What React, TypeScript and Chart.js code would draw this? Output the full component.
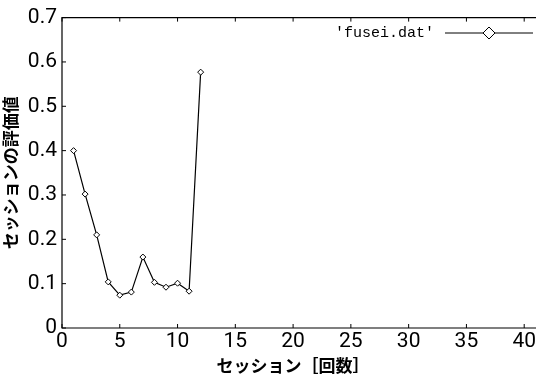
import React, { useEffect, useRef } from "react";
import { Chart, registerables } from "chart.js";

Chart.register(...registerables);

const sessions = [1, 2, 3, 4, 5, 6, 7, 8, 9, 10, 11, 12];
const evalValues = [0.4, 0.302, 0.21, 0.104, 0.074, 0.081, 0.16, 0.103, 0.092, 0.101, 0.083, 0.577];
const seriesLabel = "'fusei.dat'";
const xTitle = "セッション［回数］";
const yTitle = "セッションの評価値";

const tickFont = "Roboto, 'Noto Sans', sans-serif";
const titleFont = "'Noto Sans CJK JP', sans-serif";
const legendFont = "'Liberation Mono', 'DejaVu Sans Mono', monospace";

function drawDiamond(ctx: CanvasRenderingContext2D, x: number, y: number, r: number) {
  ctx.beginPath();
  ctx.moveTo(x, y - r);
  ctx.lineTo(x + r, y);
  ctx.lineTo(x, y + r);
  ctx.lineTo(x - r, y);
  ctx.closePath();
  ctx.fillStyle = "#fff";
  ctx.fill();
  ctx.stroke();
}

const framePlugin = {
  id: "frame",
  afterDraw(chart: any) {
    const ctx: CanvasRenderingContext2D = chart.ctx;
    const { left, top, bottom } = chart.chartArea;
    const xs = chart.scales.x;
    const ys = chart.scales.y;
    const edge = chart.width - 1;
    ctx.save();
    ctx.strokeStyle = "#000";
    ctx.lineWidth = 1.2;
    ctx.beginPath();
    ctx.moveTo(edge, top);
    ctx.lineTo(left, top);
    ctx.lineTo(left, bottom);
    ctx.lineTo(edge, bottom);
    ctx.stroke();
    ctx.lineWidth = 1;
    ctx.beginPath();
    xs.ticks.forEach((t: any) => {
      const px = xs.getPixelForValue(t.value);
      ctx.moveTo(px, bottom);
      ctx.lineTo(px, bottom - 4);
      ctx.moveTo(px, top);
      ctx.lineTo(px, top + 4);
    });
    ys.ticks.forEach((t: any) => {
      const py = ys.getPixelForValue(t.value);
      ctx.moveTo(left, py);
      ctx.lineTo(left + 4, py);
    });
    ctx.stroke();
    // legend
    ctx.font = `15px ${legendFont}`;
    ctx.fillStyle = "#000";
    ctx.textAlign = "right";
    ctx.textBaseline = "middle";
    ctx.fillText(seriesLabel, 434, 33);
    ctx.beginPath();
    ctx.moveTo(445, 33);
    ctx.lineTo(533, 33);
    ctx.stroke();
    drawDiamond(ctx, 489, 33, 6);
    ctx.restore();
  },
};

export default function App() {
  const ref = useRef<HTMLCanvasElement>(null);
  useEffect(() => {
    document.body.style.margin = "0";
    const chart = new Chart(ref.current!, {
      type: "line",
      data: {
        datasets: [
          {
            label: seriesLabel,
            data: sessions.map((s, i) => ({ x: s, y: evalValues[i] })),
            borderColor: "#000",
            borderWidth: 1.2,
            pointStyle: "rectRot",
            pointRadius: 3,
            pointBorderWidth: 1,
            pointBackgroundColor: "#fff",
            pointBorderColor: "#000",
            tension: 0,
          },
        ],
      },
      options: {
        animation: false,
        responsive: false,
        layout: { padding: { top: 14, right: 8, left: 0, bottom: 0 } },
        plugins: { legend: { display: false }, tooltip: { enabled: false } },
        scales: {
          x: {
            type: "linear",
            min: 0,
            max: 40,
            grid: { display: false, drawTicks: false },
            border: { display: false },
            ticks: {
              stepSize: 5,
              autoSkip: false,
              maxRotation: 0,
              color: "#000",
              padding: 1,
              font: { family: tickFont, size: 21 },
            },
            title: {
              display: true,
              text: xTitle,
              color: "#000",
              padding: { top: -7, bottom: 0 },
              font: { family: titleFont, size: 17, weight: "bold" },
            },
            afterFit: (s: any) => {
              s.height = 48;
            },
          },
          y: {
            min: 0,
            max: 0.7,
            grid: { display: false, drawTicks: false },
            border: { display: false },
            ticks: {
              stepSize: 0.1,
              color: "#000",
              padding: 5,
              font: { family: tickFont, size: 21 },
              callback: (v: any) => (Math.abs(v) < 1e-9 ? "0" : Number(v).toFixed(1)),
            },
            title: {
              display: true,
              text: yTitle,
              color: "#000",
              padding: { top: 0, bottom: 0 },
              font: { family: titleFont, size: 17, weight: "bold" },
            },
            afterFit: (s: any) => {
              s.width = 62;
            },
          },
        },
      },
      plugins: [framePlugin],
    } as any);
    return () => chart.destroy();
  }, []);
  return (
    <div style={{ position: "absolute", left: 0, top: 0, width: 537, height: 376, background: "#fff" }}>
      <canvas ref={ref} width={537} height={376} />
    </div>
  );
}
